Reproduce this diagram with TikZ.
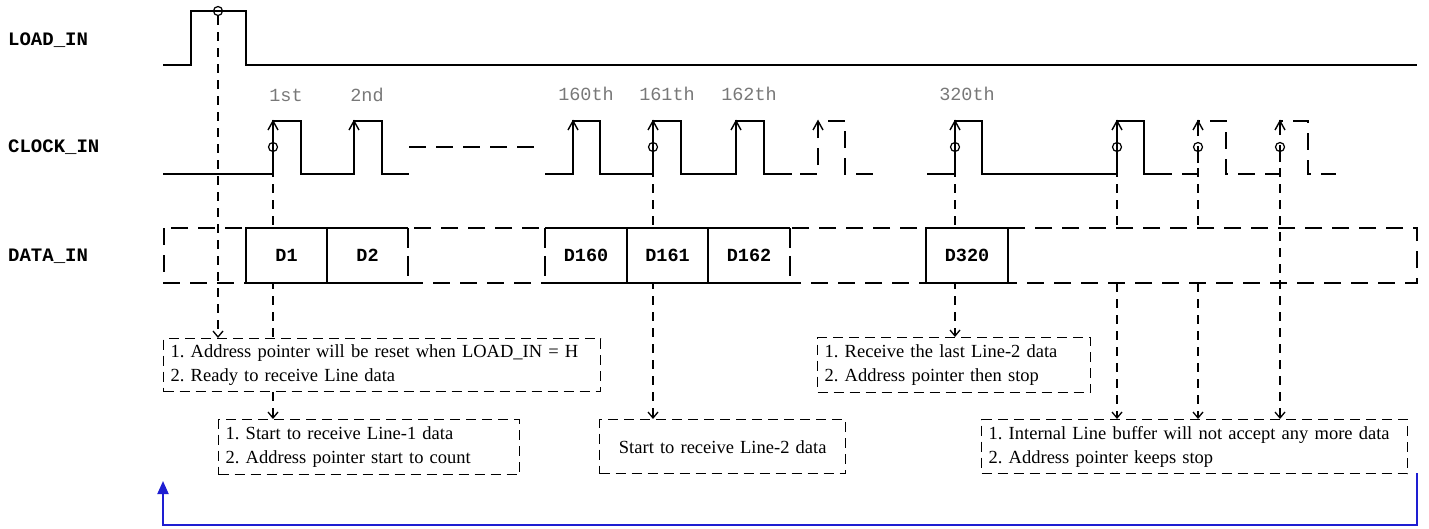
\documentclass[tikz,border=0pt]{standalone}
\usepackage{fontspec}
\setmainfont{Liberation Serif}
\setmonofont{Liberation Mono}
\usetikzlibrary{arrows.meta}
\definecolor{loopblue}{RGB}{30,30,210}
\definecolor{lblgray}{RGB}{120,120,120}
\pgfdeclarelayer{behind}
\pgfsetlayers{behind,main}
\frenchspacing
\begin{document}
\begin{tikzpicture}[x=1pt,y=-1pt,
  sig/.style={line width=2pt, line join=miter},
  dsig/.style={line width=2pt, dash pattern=on 17pt off 10pt},
  conn/.style={line width=1.3pt, dash pattern=on 9pt off 7pt, -{Straight Barb[length=6pt,width=10pt]}},
  plainconn/.style={line width=1.3pt, dash pattern=on 9pt off 7pt},
  risetip/.style={line width=1.4pt},
  ring/.style={draw, circle, line width=1.2pt, minimum size=9pt, inner sep=0pt},
  siglabel/.style={anchor=west, font=\fontsize{19}{19}\selectfont\ttfamily\bfseries, inner sep=0pt},
  clklabel/.style={font=\fontsize{18.5}{18.5}\selectfont\ttfamily, text=lblgray, inner sep=0pt},
  cell/.style={fill=white, minimum width=81pt, minimum height=55pt, inner sep=0pt, font=\fontsize{18.5}{18.5}\selectfont\ttfamily\bfseries},
  note/.style={draw, fill=white, line width=1.4pt, dash pattern=on 10pt off 6pt, anchor=north west, inner xsep=7pt, inner ysep=0pt, align=left, font=\fontsize{18.5}{24}\selectfont},
  loop/.style={draw=loopblue, line width=2pt}
]
\useasboundingbox (0,0) rectangle (1429,528);

% signal names
\node[siglabel] (lLoad) at (8,40) {LOAD\_IN};
\node[siglabel] (lClk) at (8,147) {CLOCK\_IN};
\node[siglabel] (lData) at (8,256) {DATA\_IN};

% clock labels
\node[clklabel] (k1) at (286,95) {1st};
\node[clklabel] (k2) at (367,95) {2nd};
\node[clklabel] (k160) at (586,94) {160th};
\node[clklabel] (k161) at (667,94) {161th};
\node[clklabel] (k162) at (749,94) {162th};
\node[clklabel] (k320) at (967,94) {320th};

% LOAD_IN
\draw[sig] (163,65) -- (191,65) -- (191,11) -- (246,11) -- (246,65) -- (1417,65);

% CLOCK_IN
\draw[sig] (163,174) -- (273,174) -- (273,121) -- (301,121) -- (301,174) -- (354,174) -- (354,121) -- (382,121) -- (382,174) -- (409,174);
\draw[dsig] (409,147) -- (540,147);
\draw[sig] (545,174) -- (573,174) -- (573,121) -- (600,121) -- (600,174) -- (653,174) -- (653,121) -- (681,121) -- (681,174) -- (736,174) -- (736,121) -- (764,121) -- (764,174) -- (792,174);
\draw[dsig] (800,174) -- (818,174) -- (818,121) -- (845,121) -- (845,174) -- (873,174);
\draw[sig] (927,174) -- (955,174) -- (955,121) -- (982,121) -- (982,174) -- (1117,174) -- (1117,121) -- (1144,121) -- (1144,174) -- (1172,174);
\draw[dsig] (1182,174) -- (1198,174) -- (1198,121) -- (1226,121) -- (1226,174) -- (1253,174) -- (1280,174) -- (1280,121) -- (1308,121) -- (1308,174) -- (1336,174);
\foreach \x in {273,354,573,653,736,818,955,1117,1198,1280}
  \draw[risetip] (\x-5,130) -- (\x,121) -- (\x+5,130);

% sample rings
\node[ring] (cL) at (218,11) {};
\node[ring] (c1) at (273,147) {};
\node[ring] (c161) at (653,147) {};
\node[ring] (c320) at (955,147) {};
\node[ring] (cA) at (1117,147) {};
\node[ring] (cB) at (1198,147) {};
\node[ring] (cC) at (1280,147) {};

% DATA_IN outer
\draw[dsig] (164,228) rectangle (1417,283);
\coordinate (dTop) at (0,228);
\coordinate (dBot) at (0,283);

% note boxes
\node[note, text width=423pt, minimum height=53pt] (n1) at (163,338)
  {1. Address pointer will be reset when LOAD\_IN = H\\2. Ready to receive Line data};
\node[note, text width=287pt, minimum height=55pt] (n2) at (218,419)
  {1. Start to receive Line-1 data\\2. Address pointer start to count};
\node[note, text width=232pt, minimum height=54pt, align=center] (n3) at (599,419)
  {Start to receive Line-2 data};
\node[note, text width=259pt, minimum height=55pt] (n4) at (817,337)
  {1. Receive the last Line-2 data\\2. Address pointer then stop};
\node[note, text width=412pt, minimum height=54pt] (n5) at (981,419)
  {1. Internal Line buffer will not accept any more data\\2. Address pointer keeps stop};

% data cells
\node[cell] (D1) at (286.5,255.5) {D1};
\node[cell] (D2) at (367.5,255.5) {D2};
\node[cell] (D160) at (586,255.5) {D160};
\node[cell] (D161) at (667.5,255.5) {D161};
\node[cell] (D162) at (749,255.5) {D162};
\node[cell] (D320) at (967,255.5) {D320};
\draw[sig] (D2.north east) -- (D1.north west) -- (D1.south west) -- (D2.south east);
\draw[sig] (D1.north east) -- (D1.south east);
\draw[dsig, dash pattern=on 20pt off 8pt] (D2.north east) -- (D2.south east);
\draw[sig] (D160.north west) -- (D162.north east);
\draw[sig] (D160.south west) -- (D162.south east);
\draw[sig] (D160.north east) -- (D160.south east);
\draw[sig] (D161.north east) -- (D161.south east);
\draw[dsig, dash pattern=on 20pt off 8pt] (D160.north west) -- (D160.south west);
\draw[dsig, dash pattern=on 20pt off 8pt] (D162.north east) -- (D162.south east);
\draw[sig] (D320.north east) -- (D320.north west) -- (D320.south west) -- (D320.south east) -- cycle;

% connectors, behind cells and boxes
\begin{pgfonlayer}{behind}
\draw[conn] (cL.south) -- (cL |- n1.north);
\draw[conn] (c1.south) -- (c1 |- n2.north);
\draw[conn] (c161.south) -- (c161 |- n3.north);
\draw[conn] (c320.south) -- (c320 |- n4.north);
\draw[plainconn] (cA.south) -- (cA |- dTop);
\draw[conn] (cA |- dBot) -- (cA |- n5.north);
\draw[plainconn] (cB.south) -- (cB |- dTop);
\draw[conn] (cB |- dBot) -- (cB |- n5.north);
\draw[conn] (cC.south) -- (cC |- n5.north);
\end{pgfonlayer}

% loop back arrow
\coordinate (bStart) at (1417,473);
\coordinate (bEnd) at (163,481);
\draw[loop, -{Triangle[length=13pt,width=11pt]}] (bStart) -- (bStart |- 0,525) -- (bEnd |- 0,525) -- (bEnd);
\end{tikzpicture}
\end{document}
